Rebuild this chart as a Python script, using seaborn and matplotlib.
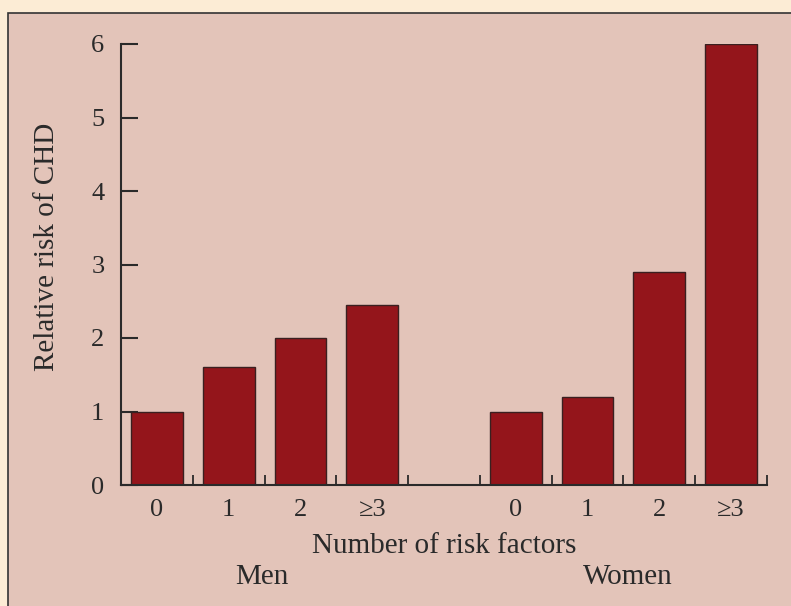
import matplotlib
matplotlib.use("Agg")
import matplotlib.pyplot as plt
from matplotlib.patches import Rectangle
from matplotlib.ticker import FixedLocator
import seaborn as sns
import pandas as pd

groups = ["Men", "Women"]
factors = ["0", "1", "2", "≥3"]
men_risk = [1.0, 1.6, 2.0, 2.45]
women_risk = [1.0, 1.2, 2.9, 6.0]
y_ticks = [0, 1, 2, 3, 4, 5, 6]

rows = []
for f, v in zip(factors, men_risk):
    rows.append({"key": "Men " + f, "risk": v})
for f, v in zip(factors, women_risk):
    rows.append({"key": "Women " + f, "risk": v})
df = pd.DataFrame(rows)
order = ["Men " + f for f in factors] + ["gap"] + ["Women " + f for f in factors]

sns.set_style("white")
plt.rcParams["font.family"] = ["Liberation Serif", "DejaVu Serif"]

BG_OUT = "#fcecd5"
BG_IN = "#e3c4b9"
BAR = "#94151b"
INK = "#2a2a2a"

fig = plt.figure(figsize=(7.91, 6.06), dpi=100, facecolor=BG_OUT)
W, H = 791, 606
fig.patches.append(Rectangle((8 / W, -0.01), 1.02, (606 - 13) / H + 0.01,
                             transform=fig.transFigure, facecolor=BG_IN,
                             edgecolor="#333333", linewidth=1.2, zorder=-10))

ax = fig.add_axes([121 / W, 121 / H, (767 - 121) / W, (485 - 44) / H])
ax.set_facecolor("none")
ax.set_axisbelow(True)
sns.barplot(data=df, x="key", y="risk", order=order, color=BAR,
            width=0.72, edgecolor="#3a2020", linewidth=1.0,
            saturation=1, ax=ax, errorbar=None, zorder=3)

ax.set_xlim(-0.5, 8.5)
ax.set_ylim(0, 6)
ax.set_yticks(y_ticks)
ax.set_yticklabels([str(t) for t in y_ticks], fontsize=19, color=INK)
ax.set_xticks(list(range(9)))
ax.set_xticklabels(factors + [""] + factors, fontsize=19, color=INK)
ax.xaxis.set_minor_locator(FixedLocator([i + 0.5 for i in range(9)]))
ax.tick_params(axis="x", which="major", bottom=True, length=0, pad=10)
ax.tick_params(axis="x", which="minor", bottom=True, direction="in", length=7,
               width=1.3, color=INK)
ax.tick_params(axis="y", which="major", left=True, direction="in", length=12,
               width=1.5, color=INK, pad=12)

for s in ["top", "right"]:
    ax.spines[s].set_visible(False)
for s in ["left", "bottom"]:
    ax.spines[s].set_color(INK)
    ax.spines[s].set_linewidth(1.5)
    ax.spines[s].set_zorder(4)

ax.set_xlabel("")
ax.set_ylabel("")
fig.text(47 / W, 1 - 247 / H, "Relative risk of CHD", rotation=90, ha="center",
         va="center", fontsize=21, color=INK)
fig.text(444 / W, 1 - 546 / H, "Number of risk factors", ha="center", va="center",
         fontsize=21, color=INK)
fig.text(262 / W, 1 - 577 / H, groups[0], ha="center", va="center",
         fontsize=21, color=INK)
fig.text(628 / W, 1 - 577 / H, groups[1], ha="center", va="center",
         fontsize=21, color=INK)

fig.savefig("out.png", dpi=100, facecolor=BG_OUT)
